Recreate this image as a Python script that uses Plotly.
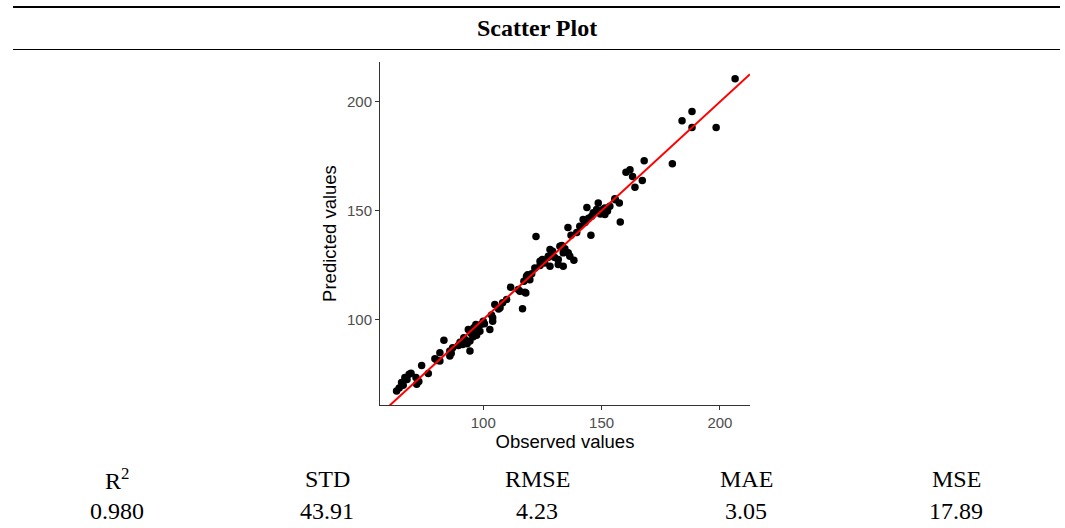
import numpy as np
import plotly.graph_objects as go

# Observed vs. predicted values
observed = [
    63.4, 64.5, 65.5, 66.2, 66.9, 67.8, 68.7, 69.5, 71.9, 71.6, 72.8, 74.0,
    76.8, 79.6, 80.5, 81.7, 81.7, 83.4, 85.9, 85.9, 86.5, 87.1, 89.5, 90.2,
    91.3, 91.8, 92.5, 93.2, 93.7, 94.4, 94.4, 94.9, 95.8, 96.0, 96.9, 97.2,
    97.5, 98.0, 98.6, 99.2, 100.0, 100.5, 102.8, 104.0, 104.0, 103.5, 104.9,
    107.1, 108.2, 106.5, 109.9, 111.6, 114.8, 115.5, 116.6, 117.6, 118.0,
    117.2, 118.3, 119.7, 118.8, 120.5, 121.8, 122.3, 124.0, 124.0, 125.0,
    126.0, 127.5, 127.5, 128.2, 128.2, 129.3, 130.2, 131.7, 131.7, 132.4,
    133.2, 133.8, 133.8, 134.5, 135.8, 135.9, 136.6, 137.1, 138.3, 139.5,
    140.8, 142.2, 143.0, 143.8, 144.5, 145.5, 145.8, 146.5, 147.9, 148.6,
    149.5, 150.5, 151.4, 151.4, 152.5, 153.5, 155.6, 155.8, 157.5, 157.9,
    160.3, 162.0, 163.1, 164.1, 167.2, 168.0, 179.9, 184.0, 188.2, 188.2,
    198.4, 206.4,
]
predicted = [
    67.1, 68.5, 71.0, 69.8, 73.3, 72.4, 74.8, 75.3, 70.2, 73.3, 71.5, 78.9,
    75.2, 82.0, 81.2, 84.7, 80.9, 90.5, 83.2, 85.5, 84.5, 87.0, 88.0, 89.5,
    88.5, 91.6, 90.5, 88.9, 95.4, 85.5, 90.1, 93.5, 92.1, 96.2, 97.7, 92.7,
    94.8, 96.5, 94.6, 97.8, 99.2, 98.0, 95.4, 100.8, 99.2, 102.0, 106.9,
    105.4, 107.7, 104.8, 109.2, 114.8, 113.8, 113.0, 104.9, 112.5, 112.2,
    117.6, 119.9, 118.3, 120.5, 121.0, 123.7, 138.1, 126.7, 124.8, 127.5,
    126.0, 129.0, 128.6, 124.5, 132.1, 131.3, 128.5, 127.5, 125.2, 133.6,
    134.0, 124.5, 130.6, 132.5, 142.3, 130.6, 129.0, 138.7, 127.2, 140.0,
    142.8, 145.9, 144.5, 151.5, 146.5, 138.7, 147.4, 149.0, 150.5, 153.5,
    148.5, 150.5, 151.2, 148.2, 149.8, 152.0, 155.5, 155.0, 153.5, 144.8,
    167.7, 168.8, 165.7, 160.7, 163.8, 172.9, 171.6, 191.3, 195.6, 188.2,
    188.2, 210.6,
]

# Summary metrics shown beneath the chart
metric_names = ["R<sup>2</sup>", "STD", "RMSE", "MAE", "MSE"]
metric_values = ["0.980", "43.91", "4.23", "3.05", "17.89"]

tick_values = [100, 150, 200]
x_range = [56.4, 212.7]
y_range = [60.7, 218.3]

W, H = 1065, 528


def px_x(p):
    return p / W


def px_y(p):
    return 1 - p / H


fig = go.Figure()

fig.add_trace(go.Scatter(
    x=observed, y=predicted, mode="markers",
    marker=dict(color="black", size=7.5, line=dict(width=0)),
    hoverinfo="x+y",
))

# 1:1 reference line across the full panel
ref = np.array(x_range)
fig.add_trace(go.Scatter(
    x=ref, y=ref, mode="lines",
    line=dict(color="#ff0000", width=2),
    hoverinfo="skip",
))

axis_common = dict(
    showline=True, linecolor="#333333", linewidth=1,
    ticks="outside", ticklen=4, tickwidth=1, tickcolor="#333333",
    tickvals=tick_values,
    tickfont=dict(family="Liberation Sans, Arial", size=15, color="#4d4d4d"),
    showgrid=False, zeroline=False, mirror=False,
)

fig.update_layout(
    width=W, height=H,
    margin=dict(l=0, r=0, t=0, b=0),
    paper_bgcolor="white", plot_bgcolor="white",
    showlegend=False,
    xaxis=dict(
        domain=[px_x(380), px_x(750)], range=x_range,
        title=dict(text="Observed values", standoff=5,
                   font=dict(family="Liberation Sans, Arial", size=18.5, color="black")),
        **axis_common,
    ),
    yaxis=dict(
        domain=[px_y(405), px_y(62)], range=y_range,
        title=dict(text="Predicted values", standoff=5,
                   font=dict(family="Liberation Sans, Arial", size=18.5, color="black")),
        **axis_common,
    ),
)

# Horizontal rules framing the heading
fig.add_shape(type="line", xref="paper", yref="paper",
              x0=px_x(13), x1=px_x(1060), y0=px_y(7), y1=px_y(7),
              line=dict(color="black", width=2))
fig.add_shape(type="line", xref="paper", yref="paper",
              x0=px_x(13), x1=px_x(1060), y0=px_y(49.5), y1=px_y(49.5),
              line=dict(color="black", width=1.2))

serif = "Liberation Serif, Times New Roman, serif"

fig.add_annotation(
    text="<b>Scatter Plot</b>", xref="paper", yref="paper",
    x=px_x(537), y=px_y(28), xanchor="center", yanchor="middle",
    showarrow=False, font=dict(family=serif, size=24, color="black"),
)

col_centers = [117, 327, 537, 746, 956]
for cx, name, val in zip(col_centers, metric_names, metric_values):
    fig.add_annotation(
        text=name, xref="paper", yref="paper",
        x=px_x(cx), y=px_y(479), xanchor="center", yanchor="middle",
        showarrow=False, font=dict(family=serif, size=24, color="black"),
    )
    fig.add_annotation(
        text=val, xref="paper", yref="paper",
        x=px_x(cx), y=px_y(511), xanchor="center", yanchor="middle",
        showarrow=False, font=dict(family=serif, size=24, color="black"),
    )

fig.write_html("out.html")
